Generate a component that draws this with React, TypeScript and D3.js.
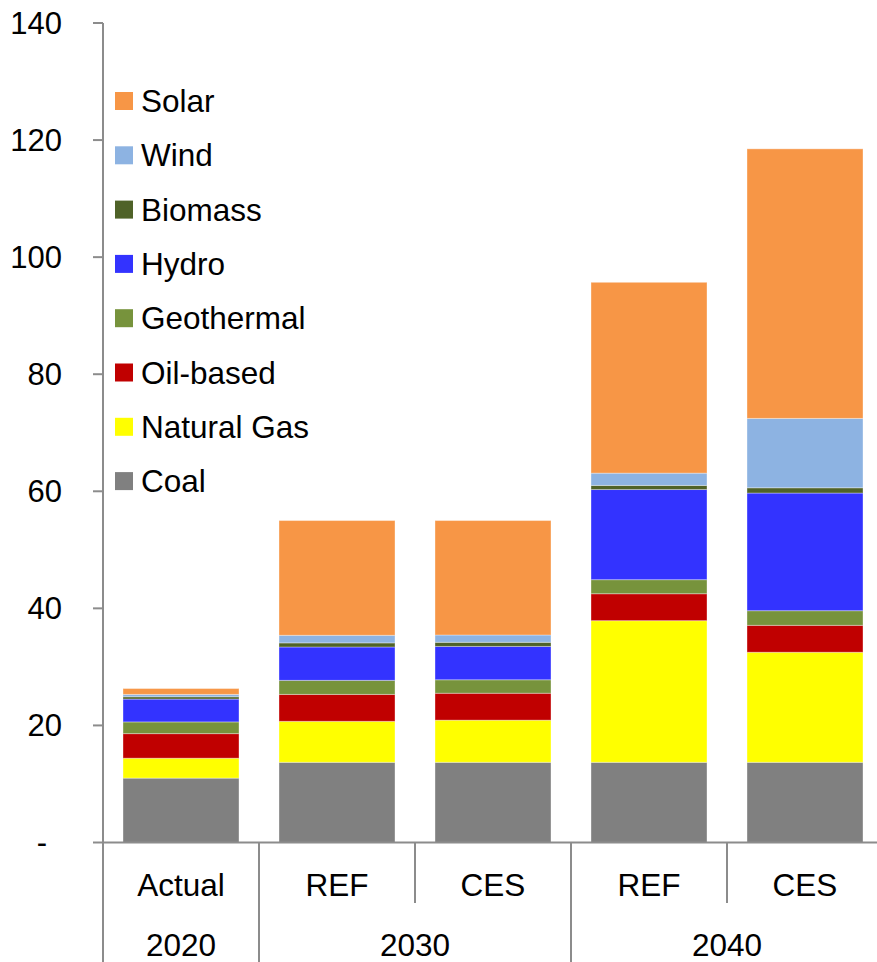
import React from "react";
import * as d3 from "d3";

// Scenario columns and their period groups
const scenarios = ["Actual", "REF", "CES", "REF", "CES"];
const periods = [
  { label: "2020", from: 0, to: 1 },
  { label: "2030", from: 1, to: 3 },
  { label: "2040", from: 3, to: 5 },
];

// Generation by source, one value per scenario column
const coal = [11.0, 13.7, 13.7, 13.7, 13.7];
const naturalGas = [3.4, 7.0, 7.2, 24.2, 18.8];
const oilBased = [4.2, 4.6, 4.6, 4.6, 4.6];
const geothermal = [2.0, 2.4, 2.3, 2.4, 2.5];
const hydro = [3.9, 5.7, 5.7, 15.4, 20.1];
const biomass = [0.4, 0.7, 0.7, 0.7, 0.9];
const wind = [0.4, 1.3, 1.25, 2.1, 11.85];
const solar = [1.0, 19.6, 19.55, 32.6, 46.05];

// Stack order bottom → top
const sources = [
  { key: "Coal", values: coal, color: "#808080" },
  { key: "Natural Gas", values: naturalGas, color: "#FFFF00" },
  { key: "Oil-based", values: oilBased, color: "#C00000" },
  { key: "Geothermal", values: geothermal, color: "#77933C" },
  { key: "Hydro", values: hydro, color: "#3333FF" },
  { key: "Biomass", values: biomass, color: "#4F6228" },
  { key: "Wind", values: wind, color: "#8DB3E2" },
  { key: "Solar", values: solar, color: "#F79646" },
];

const yTicks = [0, 20, 40, 60, 80, 100, 120, 140];

const W = 877;
const H = 962;
const FONT = "'Liberation Sans', Arial, sans-serif";
const AXIS = "#8c8c8c";

export default function App() {
  const left = 103;
  const right = 883;
  const y0 = 842.5;
  const yTop = 23;

  const idx = scenarios.map((_, i) => i);
  const pad = 40 / 156;
  const x = d3
    .scaleBand<number>()
    .domain(idx)
    .range([left, right])
    .paddingInner(pad)
    .paddingOuter(pad / 2);
  const step = x.step();
  const colStart = (i: number) => left + i * step;

  const y = d3.scaleLinear().domain([0, 140]).range([y0, yTop]);

  const rows = idx.map((i) => {
    const r: Record<string, number> = { i };
    sources.forEach((s) => (r[s.key] = s.values[i]));
    return r;
  });
  const stacked = d3.stack<Record<string, number>>().keys(sources.map((s) => s.key))(rows);

  const legend = [...sources].reverse();

  return (
    <svg
      width={W}
      height={H}
      style={{ position: "absolute", left: 0, top: 0, display: "block", background: "#fff" }}
      fontFamily={FONT}
    >
      {/* bars */}
      {stacked.map((layer, li) => (
        <g key={layer.key} fill={sources[li].color}>
          {layer.map((d, i) => (
            <rect
              key={i}
              x={x(i)}
              width={x.bandwidth()}
              y={y(d[1])}
              height={y(d[0]) - y(d[1])}
              stroke="rgba(255,255,255,0.35)"
              strokeWidth={1}
            />
          ))}
        </g>
      ))}

      {/* y axis */}
      <line x1={left} x2={left} y1={yTop} y2={y0} stroke={AXIS} strokeWidth={2} />
      {yTicks.map((t) => (
        <g key={t}>
          <line x1={left - 10} x2={left} y1={y(t)} y2={y(t)} stroke={AXIS} strokeWidth={2} />
          <text
            x={t === 0 ? 42 : 62}
            y={y(t)}
            dy="0.35em"
            textAnchor={t === 0 ? "middle" : "end"}
            fontSize={31}
            fill="#000"
          >
            {t === 0 ? "-" : t}
          </text>
        </g>
      ))}

      {/* x axis and category dividers */}
      <line x1={left} x2={W} y1={y0} y2={y0} stroke={AXIS} strokeWidth={2} />
      {d3.range(scenarios.length + 1).map((i) => {
        const isGroupEdge = periods.some((p) => p.from === i || p.to === i);
        return (
          <line
            key={i}
            x1={colStart(i)}
            x2={colStart(i)}
            y1={y0}
            y2={isGroupEdge ? H : 903}
            stroke={AXIS}
            strokeWidth={2}
          />
        );
      })}
      {scenarios.map((s, i) => (
        <text
          key={i}
          x={colStart(i) + step / 2}
          y={885}
          dy="0.35em"
          textAnchor="middle"
          fontSize={31.5}
          fill="#000"
        >
          {s}
        </text>
      ))}
      {periods.map((p) => (
        <text
          key={p.label}
          x={(colStart(p.from) + colStart(p.to)) / 2}
          y={945}
          dy="0.35em"
          textAnchor="middle"
          fontSize={31.5}
          fill="#000"
        >
          {p.label}
        </text>
      ))}

      {/* legend */}
      {legend.map((s, k) => {
        const cy = 101 + k * 54.3;
        return (
          <g key={s.key}>
            <rect x={115} y={cy - 9} width={18} height={18} fill={s.color} />
            <text x={141} y={cy} dy="0.35em" fontSize={31.5} fill="#000">
              {s.key}
            </text>
          </g>
        );
      })}
    </svg>
  );
}
